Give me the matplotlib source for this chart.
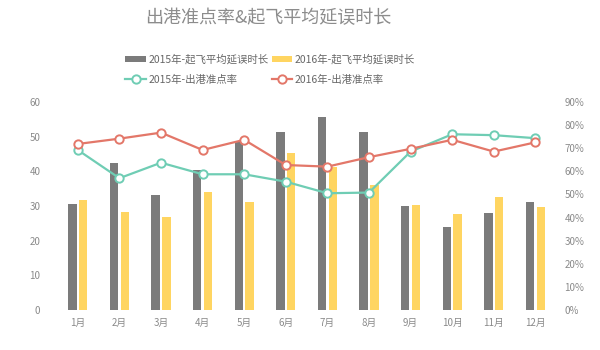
import matplotlib.pyplot as plt
import numpy as np

plt.rcParams['font.family'] = ['Noto Sans CJK SC', 'DejaVu Sans']

# data
months = ['1月', '2月', '3月', '4月', '5月', '6月', '7月', '8月', '9月', '10月', '11月', '12月']
delay_2015 = [30.6, 42.5, 33.3, 40.4, 48.5, 51.4, 55.7, 51.4, 30.0, 23.8, 27.9, 31.1]
delay_2016 = [31.7, 28.2, 26.9, 34.1, 31.1, 45.4, 41.3, 36.0, 30.3, 27.6, 32.6, 29.8]
ontime_2015 = [69.2, 57.0, 63.7, 58.7, 58.7, 55.5, 50.5, 50.8, 68.5, 76.0, 75.6, 74.3]
ontime_2016 = [71.8, 74.1, 76.7, 69.2, 73.6, 62.7, 62.0, 66.1, 69.7, 73.6, 68.5, 72.5]

gray = '#7b7b7b'
yellow = '#ffd561'
teal = '#6fcdb4'
red = '#e37769'
txt = '#8a8a8a'

fig = plt.figure(figsize=(6, 3.5), dpi=100)
ax = fig.add_axes([0.095, 0.114, 0.832, 0.595])
ax2 = ax.twinx()

x = np.arange(len(months))
w = 0.2
ax.bar(x - 0.13, delay_2015, w, color=gray, label='2015年-起飞平均延误时长', zorder=2)
ax.bar(x + 0.13, delay_2016, w, color=yellow, label='2016年-起飞平均延误时长', zorder=2)

ax2.plot(x, ontime_2015, color=teal, lw=1.6, marker='o', ms=6, mfc='white',
         mec=teal, mew=1.4, label='2015年-出港准点率')
ax2.plot(x, ontime_2016, color=red, lw=1.6, marker='o', ms=6, mfc='white',
         mec=red, mew=1.4, label='2016年-出港准点率')

ax.set_xlim(-0.5, 11.5)
ax.set_ylim(0, 60)
ax.set_yticks(range(0, 61, 10))
ax2.set_ylim(0, 90)
ax2.set_yticks(range(0, 91, 10))
ax2.set_yticklabels([f'{v}%' for v in range(0, 91, 10)])
ax.set_xticks(x)
ax.set_xticklabels(months)

for a in (ax, ax2):
    for s in a.spines.values():
        s.set_visible(False)
    a.tick_params(length=0, labelsize=7, labelcolor=txt)
ax.tick_params(axis='y', pad=12)
ax.tick_params(axis='x', pad=6)
ax2.tick_params(axis='y', pad=6)

fig.text(0.447, 0.947, '出港准点率&起飞平均延误时长', ha='center', va='center',
         fontsize=13, color='#8c8c8c')

h1, l1 = ax.get_legend_handles_labels()
h2, l2 = ax2.get_legend_handles_labels()
# column-major fill: bars on first row, lines on second
handles = [h1[0], h2[0], h1[1], h2[1]]
labels = [l1[0], l2[0], l1[1], l2[1]]
fig.legend(handles, labels, ncol=2, loc='center', bbox_to_anchor=(0.45, 0.802),
           frameon=False, fontsize=7.5, labelcolor='#666666', handlelength=2.0,
           handleheight=0.5, handletextpad=0.2, columnspacing=0.3, labelspacing=1.0)

fig.savefig('out.png', dpi=100)
